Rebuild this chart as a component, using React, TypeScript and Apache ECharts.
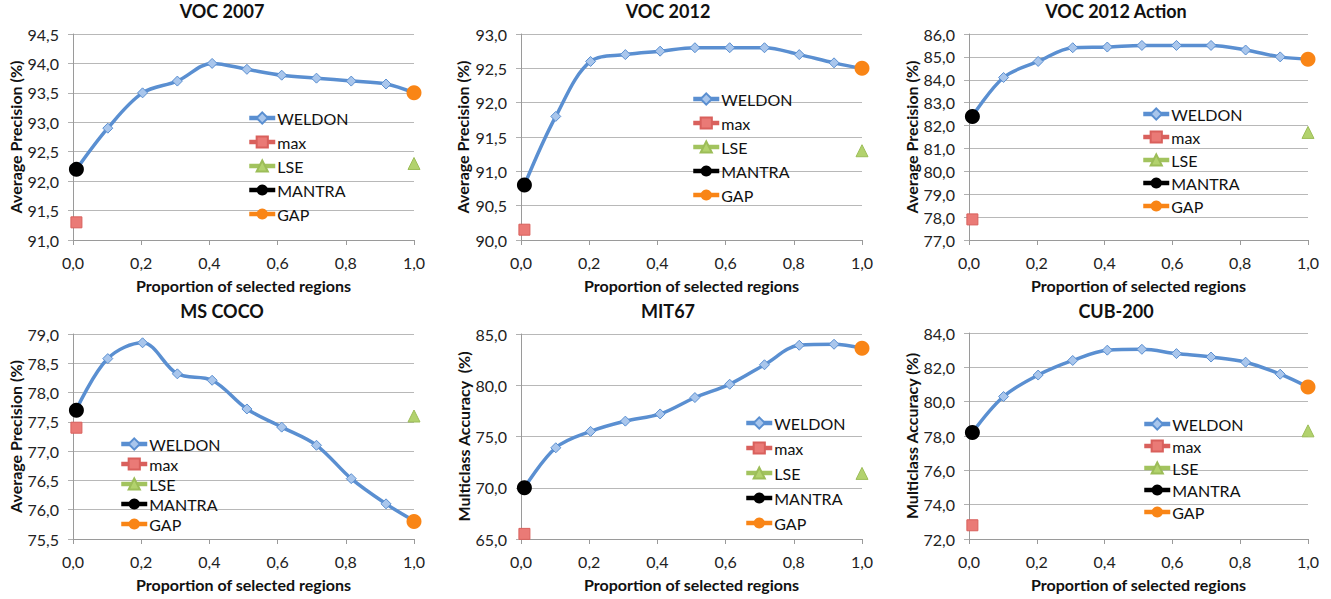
import React, { useEffect, useRef } from "react";
import * as echarts from "echarts";

// Proportion of selected regions (x positions of the WELDON points)
const xPositions = [0.01, 0.102, 0.204, 0.306, 0.408, 0.51, 0.612, 0.714, 0.816, 0.918, 1.0];

const titles = ["VOC 2007", "VOC 2012", "VOC 2012 Action", "MS COCO", "MIT67", "CUB-200"];
const yAxisNames = [
  "Average Precision (%)",
  "Average Precision (%)",
  "Average Precision (%)",
  "Average Precision (%)",
  "Multiclass Accuracy  (%)",
  "Multiclass Accuracy (%)",
];
const xAxisName = "Proportion of selected regions";
const legendNames = ["WELDON", "max", "LSE", "MANTRA", "GAP"];

const yMins = [91, 90, 77, 75.5, 65, 72];
const yMaxs = [94.5, 93, 86, 79, 85, 84];
const yIntervals = [0.5, 0.5, 1, 0.5, 5, 2];

// WELDON curves
const weldonVoc2007 = [92.2, 92.9, 93.5, 93.7, 94.0, 93.9, 93.8, 93.75, 93.7, 93.65, 93.5];
const weldonVoc2012 = [90.8, 91.8, 92.6, 92.7, 92.75, 92.8, 92.8, 92.8, 92.7, 92.58, 92.5];
const weldonAction = [82.4, 84.1, 84.8, 85.4, 85.43, 85.5, 85.5, 85.5, 85.3, 85.0, 84.9];
const weldonCoco = [77.71, 78.58, 78.85, 78.32, 78.21, 77.72, 77.41, 77.1, 76.53, 76.1, 75.81];
const weldonMit67 = [70.0, 73.9, 75.5, 76.5, 77.2, 78.8, 80.1, 82.0, 83.9, 84.0, 83.6];
const weldonCub = [78.2, 80.3, 81.55, 82.4, 83.0, 83.05, 82.8, 82.6, 82.3, 81.6, 80.85];
const weldonAll = [weldonVoc2007, weldonVoc2012, weldonAction, weldonCoco, weldonMit67, weldonCub];

// Single-point baselines
const maxX = 0.01;
const maxValues = [91.3, 90.15, 77.9, 77.4, 65.5, 72.8];
const lseX = 1.0;
const lseValues = [92.3, 91.3, 81.7, 77.6, 71.4, 78.3];
const mantraX = 0.01;
const mantraValues = [92.2, 90.8, 82.4, 77.7, 70.0, 78.2];
const gapX = 1.0;
const gapValues = [93.5, 92.5, 84.9, 75.8, 83.6, 80.85];

// Layout (pixels)
const gridBoxes = [
  { left: 73, top: 34, width: 341, height: 206 },
  { left: 521, top: 34, width: 341, height: 206 },
  { left: 969, top: 34, width: 339, height: 206 },
  { left: 73, top: 334, width: 341, height: 205 },
  { left: 521, top: 334, width: 341, height: 205 },
  { left: 969, top: 333, width: 339, height: 206 },
];
const titleCenters = [
  { x: 222, y: 2 },
  { x: 668, y: 2 },
  { x: 1116, y: 2 },
  { x: 222, y: 302 },
  { x: 668, y: 302 },
  { x: 1116, y: 302 },
];
const legendBoxes = [
  { left: 247, top: 110, gap: 8 },
  { left: 691, top: 91, gap: 8 },
  { left: 1141, top: 106, gap: 7 },
  { left: 119, top: 436, gap: 4 },
  { left: 744, top: 415, gap: 9 },
  { left: 1142, top: 416, gap: 6 },
];
const yNameGaps = [49, 51, 50, 49, 50, 50];

const FONT = "Lato, 'Open Sans', sans-serif";
const BLUE = "#5a8fd1";
const fmt = (v: number) => v.toFixed(1).replace(".", ",");

function buildOption() {
  const grid: any[] = [];
  const xAxis: any[] = [];
  const yAxis: any[] = [];
  const title: any[] = [];
  const legend: any[] = [];
  const series: any[] = [];

  for (let k = 0; k < 6; k++) {
    grid.push({ ...gridBoxes[k], containLabel: false });
    title.push({
      text: titles[k],
      left: titleCenters[k].x,
      top: titleCenters[k].y,
      textAlign: "center",
      padding: 0,
      textStyle: { fontFamily: FONT, fontSize: 18, fontWeight: "bold", color: "#111" },
    });
    legend.push({
      data: legendNames,
      orient: "vertical",
      left: legendBoxes[k].left,
      top: legendBoxes[k].top,
      itemGap: legendBoxes[k].gap,
      itemWidth: 26,
      itemHeight: 14,
      padding: 0,
      selectedMode: false,
      lineStyle: { width: 4.5 },
      textStyle: { fontFamily: FONT, fontSize: 16, color: "#111", padding: [0, 0, 0, -3] },
    });
    xAxis.push({
      type: "value",
      gridIndex: k,
      min: 0,
      max: 1,
      interval: 0.2,
      name: xAxisName,
      nameLocation: "middle",
      nameGap: 37,
      nameTextStyle: { fontFamily: FONT, fontSize: 16, fontWeight: "bold", color: "#111" },
      axisLine: { show: true, lineStyle: { color: "#9a9a9a", width: 1 } },
      axisTick: { show: true, inside: false, length: 5, lineStyle: { color: "#9a9a9a" } },
      axisLabel: { formatter: fmt, margin: 14, fontFamily: FONT, fontSize: 16, color: "#222" },
      splitLine: { show: false },
    });
    yAxis.push({
      type: "value",
      gridIndex: k,
      min: yMins[k],
      max: yMaxs[k],
      interval: yIntervals[k],
      name: yAxisNames[k],
      nameLocation: "middle",
      nameGap: yNameGaps[k],
      nameTextStyle: { fontFamily: FONT, fontSize: 16, fontWeight: "bold", color: "#111" },
      axisLine: { show: true, lineStyle: { color: "#9a9a9a", width: 1 } },
      axisTick: { show: true, inside: false, length: 5, lineStyle: { color: "#b0b0b0" } },
      axisLabel: { formatter: fmt, margin: 14, fontFamily: FONT, fontSize: 16, color: "#222" },
      splitLine: { show: true, lineStyle: { color: "#b8b8b8", width: 1 } },
    });

    series.push({
      name: "WELDON",
      type: "line",
      xAxisIndex: k,
      yAxisIndex: k,
      smooth: 0.35,
      data: xPositions.map((x, i) => [x, weldonAll[k][i]]),
      symbol: "diamond",
      symbolSize: 10,
      showAllSymbol: true,
      color: BLUE,
      lineStyle: { color: BLUE, width: 3.5 },
      itemStyle: { color: "#a9c6ec", borderColor: BLUE, borderWidth: 1 },
    });
    series.push({
      name: "max",
      type: "line",
      xAxisIndex: k,
      yAxisIndex: k,
      data: [[maxX, maxValues[k]]],
      symbol: "rect",
      symbolSize: 11,
      color: "#d9605c",
      lineStyle: { color: "#d9605c", width: 4 },
      itemStyle: { color: "#ea7a76", borderColor: "#d9605c", borderWidth: 1 },
    });
    series.push({
      name: "LSE",
      type: "line",
      xAxisIndex: k,
      yAxisIndex: k,
      data: [[lseX, lseValues[k]]],
      symbol: "triangle",
      symbolSize: 12,
      color: "#a2c35e",
      lineStyle: { color: "#a2c35e", width: 4 },
      itemStyle: { color: "#b2d26d", borderColor: "#9cbd58", borderWidth: 1 },
    });
    series.push({
      name: "MANTRA",
      type: "line",
      xAxisIndex: k,
      yAxisIndex: k,
      data: [[mantraX, mantraValues[k]]],
      symbol: "circle",
      symbolSize: 15,
      color: "#000000",
      lineStyle: { color: "#000000", width: 4 },
      itemStyle: { color: "#000000" },
    });
    series.push({
      name: "GAP",
      type: "line",
      xAxisIndex: k,
      yAxisIndex: k,
      data: [[gapX, gapValues[k]]],
      symbol: "circle",
      symbolSize: 15,
      color: "#f98516",
      lineStyle: { color: "#f98516", width: 4 },
      itemStyle: { color: "#f98516" },
    });
  }

  return {
    animation: false,
    backgroundColor: "#ffffff",
    textStyle: { fontFamily: FONT },
    title,
    legend,
    grid,
    xAxis,
    yAxis,
    series,
  };
}

export default function App() {
  const ref = useRef<HTMLDivElement>(null);
  useEffect(() => {
    if (!ref.current) return;
    const chart = echarts.init(ref.current, undefined, { renderer: "svg" });
    chart.setOption(buildOption() as any);
    return () => chart.dispose();
  }, []);
  return (
    <div
      ref={ref}
      style={{ position: "absolute", left: 0, top: 0, width: 1331, height: 599, background: "#fff" }}
    />
  );
}
